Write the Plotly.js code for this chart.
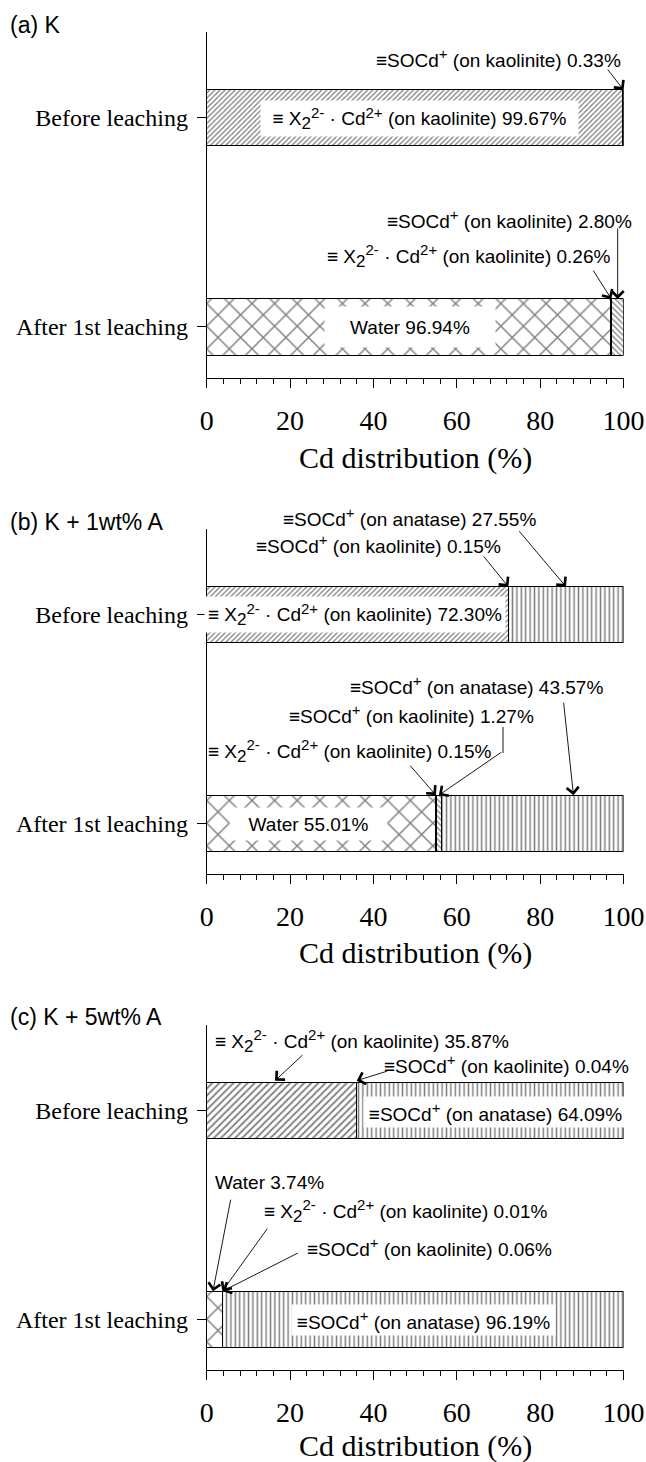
<!DOCTYPE html>
<html>
<head>
<meta charset="utf-8">
<script src="https://cdn.plot.ly/plotly-3.0.1.min.js"></script>
<style>html,body{margin:0;padding:0;background:#fff;}#chart{width:646px;height:1462px;}</style>
</head>
<body>
<div id="chart"></div>
<script>
// ---------------- data ----------------
const categories = ['Before leaching', 'After 1st leaching'];
const panelTitles = ['(a) K', '(b) K + 1wt% A', '(c) K + 5wt% A'];
const xTickVals = [0, 20, 40, 60, 80, 100];
const xAxisTitle = 'Cd distribution (%)';

// order within each array: [Before leaching, After 1st leaching]
const aWater = [0, 96.94];
const aExch  = [99.67, 0.26];
const aSocK  = [0.33, 2.80];
const aSocA  = [0, 0];

const bWater = [0, 55.01];
const bExch  = [72.30, 0.15];
const bSocK  = [0.15, 1.27];
const bSocA  = [27.55, 43.57];

const cWater = [0, 3.74];
const cExch  = [35.87, 0.01];
const cSocK  = [0.04, 0.06];
const cSocA  = [64.09, 96.19];

const SUP = t => '<sup><span style="font-size:15px">' + t + '</span></sup>';
const SUB = t => '<sub><span style="font-size:17px">' + t + '</span></sub>';
const lblWater = 'Water';
const lblExch = '≡ X' + SUB('2') + SUP('2-') + ' · Cd' + SUP('2+') + ' (on kaolinite)';
const lblSocK = '≡SOCd' + SUP('+') + ' (on kaolinite)';
const lblSocA = '≡SOCd' + SUP('+') + ' (on anatase)';

// ---------------- layout helpers ----------------
const W = 646, H = 1462;
const px = v => v / W;
const py = v => 1 - v / H;
const BARW = 0.268;
const yIdx = categories.map((c, i) => i);
const fmt = v => v.toFixed(2) + '%';
const SERIF = 'Liberation Serif, Times New Roman, serif';

const panels = [
  {water: aWater, exch: aExch, socK: aSocK, socA: aSocA, top: 32, bottom: 378, exchSize: 3.6},
  {water: bWater, exch: bExch, socK: bSocK, socA: bSocA, top: 529, bottom: 874, exchSize: 3.6},
  {water: cWater, exch: cExch, socK: cSocK, socA: cSocA, top: 1025, bottom: 1370, exchSize: 5}
];
const titleY = [25, 522, 1017];
const axisTitleY = [458, 953, 1446];

const traces = [];
const layout = {
  width: W, height: H,
  margin: {l: 0, r: 0, t: 0, b: 0},
  paper_bgcolor: 'white', plot_bgcolor: 'white',
  barmode: 'stack',
  showlegend: false,
  font: {family: 'Liberation Sans, Arial, sans-serif', color: 'black', size: 19},
  annotations: [],
  shapes: []
};

function patt(shape, size, solidity) {
  return {shape: shape, size: size, solidity: solidity, fgcolor: 'black', bgcolor: 'white', fillmode: 'overlay'};
}

panels.forEach((p, k) => {
  const sfx = k === 0 ? '' : String(k + 1);
  const xa = 'x' + sfx, ya = 'y' + sfx;
  const series = [
    {vals: p.water, pattern: patt('x', 16, 0.17)},
    {vals: p.exch, pattern: patt('/', p.exchSize, 0.36)},
    {vals: p.socK, pattern: patt('\\', 4, 0.32)},
    {vals: p.socA, pattern: patt('|', 4.4, 0.34)}
  ];
  series.forEach(s => {
    traces.push({
      type: 'bar', orientation: 'h',
      x: s.vals, y: yIdx, width: BARW,
      xaxis: xa, yaxis: ya,
      marker: {color: 'white', line: {color: 'black', width: 1}, pattern: s.pattern},
      hoverinfo: 'skip'
    });
  });
  layout['xaxis' + sfx] = {
    domain: [206.7 / W, 623.5 / W],
    anchor: ya,
    range: [0, 100],
    showgrid: false, zeroline: false,
    showline: true, linecolor: 'black', linewidth: 1,
    ticks: 'outside', ticklen: 9, tickwidth: 1, tickcolor: 'black',
    tickvals: xTickVals,
    minor: {dtick: 4, ticks: 'outside', ticklen: 5, tickwidth: 1, tickcolor: 'black', showgrid: false},
    ticklabelstandoff: 8,
    tickfont: {family: SERIF, size: 28, color: 'black'},
    fixedrange: true
  };
  layout['yaxis' + sfx] = {
    domain: [py(p.bottom), py(p.top)],
    anchor: xa,
    range: [1.244, -0.411],
    showgrid: false, zeroline: false,
    showline: true, linecolor: 'black', linewidth: 1,
    ticks: 'outside', ticklen: 9, tickwidth: 1, tickcolor: 'black',
    tickvals: yIdx, ticktext: categories,
    ticklabelstandoff: 4,
    tickfont: {family: SERIF, size: 24, color: 'black'},
    fixedrange: true
  };
  // panel title
  layout.annotations.push({
    xref: 'paper', yref: 'paper', x: px(8), y: py(titleY[k]),
    xanchor: 'left', yanchor: 'middle', showarrow: false,
    text: panelTitles[k], font: {size: 23, family: 'Liberation Sans, Arial, sans-serif'}
  });
  // x-axis title
  layout.annotations.push({
    xref: 'paper', yref: 'paper', x: px(415), y: py(axisTitleY[k]),
    xanchor: 'center', yanchor: 'middle', showarrow: false,
    text: xAxisTitle, font: {size: 30, family: SERIF}
  });
});

// text labels (pixel anchored)
function label(text, x, y, xanchor, box) {
  const a = {xref: 'paper', yref: 'paper', x: px(x), y: py(y), xanchor: xanchor, yanchor: 'middle',
    showarrow: false, text: text, font: {size: 19}};
  if (box) { a.bgcolor = 'white'; a.width = box[0]; a.height = box[1]; a.align = 'center'; a.borderpad = 0; }
  layout.annotations.push(a);
}
// arrows: tip in data coords, tail offset in px
function arrow(sfx, tipX, tipY, ax, ay) {
  layout.annotations.push({
    xref: 'x' + sfx, yref: 'y' + sfx, x: tipX, y: tipY, ax: ax, ay: ay,
    text: '', showarrow: true, arrowhead: 4, arrowsize: 2.6, arrowwidth: 0.9, arrowcolor: 'black', standoff: 0
  });
}
const topOf = i => yIdx[i] - BARW / 2;

// Panel (a)
label(lblSocK + ' ' + fmt(aSocK[0]), 623, 58, 'right');
label(lblExch + ' ' + fmt(aExch[0]), 419.5, 118, 'center', [317, 35]);
label(lblSocK + ' ' + fmt(aSocK[1]), 634, 219, 'right');
label(lblExch + ' ' + fmt(aExch[1]), 612, 256, 'right');
label(lblWater + ' ' + fmt(aWater[1]), 410, 327, 'center', [170, 40]);
arrow('', 100, topOf(0), -17, -22);
arrow('', 98.6, topOf(1), 0, -72);
arrow('', 97.07, topOf(1), -19, -30);

// Panel (b)
label(lblSocA + ' ' + fmt(bSocA[0]), 538, 517, 'right');
label(lblSocK + ' ' + fmt(bSocK[0]), 503, 544, 'right');
label(lblExch + ' ' + fmt(bExch[0]), 355, 614, 'center', [300, 35]);
label(lblSocA + ' ' + fmt(bSocA[1]), 605, 685, 'right');
label(lblSocK + ' ' + fmt(bSocK[1]), 536, 714, 'right');
label(lblExch + ' ' + fmt(bExch[1]), 493, 751, 'right');
label(lblWater + ' ' + fmt(bWater[1]), 308, 824, 'center', [157, 32]);
arrow('2', 86.2, topOf(0), -48, -57);
arrow('2', 72.375, topOf(0), -26, -32);
arrow('2', 88, topOf(1), -10, -94);
arrow('2', 55.7, topOf(1), 64, -44);
arrow('2', 55.0, topOf(1), -27, -31);
layout.shapes.push({type: 'line', xref: 'paper', yref: 'paper', x0: px(503), x1: px(503), y0: py(727), y1: py(753), line: {color: 'black', width: 0.9}});

// Panel (c)
label(lblExch + ' ' + fmt(cExch[0]), 213, 1041, 'left');
label(lblSocK + ' ' + fmt(cSocK[0]), 631, 1064, 'right');
label(lblSocA + ' ' + fmt(cSocA[0]), 495.5, 1112, 'center', [263, 30]);
label(lblWater + ' ' + fmt(cWater[1]), 213, 1182, 'left');
label(lblExch + ' ' + fmt(cExch[1]), 262, 1211, 'left');
label(lblSocK + ' ' + fmt(cSocK[1]), 305, 1247, 'left');
label(lblSocA + ' ' + fmt(cSocA[1]), 423.5, 1320, 'center', [263, 30]);
arrow('3', 16.4, topOf(0) - 0.01, 29, -27);
arrow('3', 36.0, topOf(0) - 0.01, 32, -10);
arrow('3', 1.5, topOf(1), 18, -93);
arrow('3', 3.75, topOf(1), 46, -64);
arrow('3', 3.8, topOf(1), 77, -39);

Plotly.newPlot('chart', traces, layout, {staticPlot: true, displayModeBar: false});
</script>
</body>
</html>
